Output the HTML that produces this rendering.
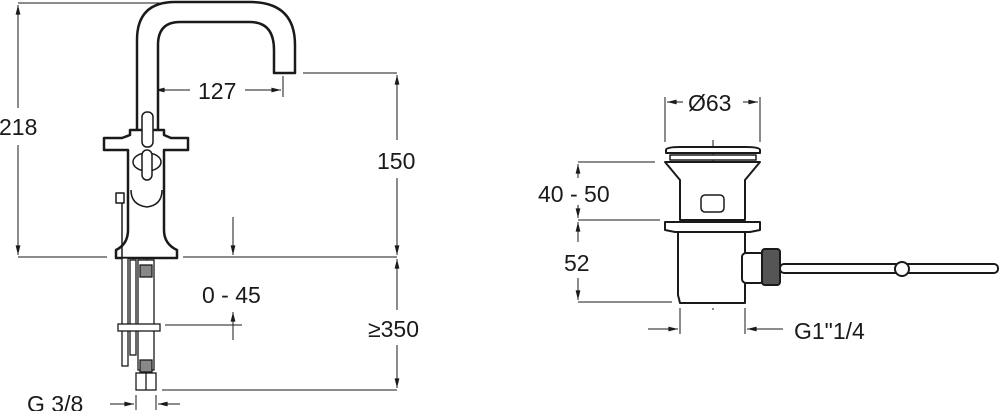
<!DOCTYPE html>
<html><head><meta charset="utf-8"><style>
html,body{margin:0;padding:0;background:#fff}
svg{display:block}
text{font-family:"Liberation Sans",sans-serif;font-size:23px;fill:#1a1a1a}
</style></head><body>
<svg width="1000" height="411" viewBox="0 0 1000 411" xmlns="http://www.w3.org/2000/svg">
<defs>
<marker id="a" viewBox="0 0 12 10" refX="12" refY="5" markerWidth="12" markerHeight="8" orient="auto-start-reverse" markerUnits="userSpaceOnUse"><path d="M0,2 L12,5 L0,8 z" fill="#1a1a1a"/></marker>
</defs>
<g stroke="#1a1a1a" fill="none" stroke-width="1">
<line x1="18" y1="3" x2="165" y2="3"/>
<line x1="18" y1="257" x2="107" y2="257"/>
<line x1="18" y1="5" x2="18" y2="108" marker-start="url(#a)"/>
<line x1="18" y1="145" x2="18" y2="255" marker-end="url(#a)"/>
<line x1="183" y1="257" x2="397" y2="257"/>
<line x1="303" y1="73" x2="397" y2="73"/>
<line x1="397" y1="75" x2="397" y2="140" marker-start="url(#a)"/>
<line x1="397" y1="178" x2="397" y2="255" marker-end="url(#a)"/>
<line x1="397" y1="259" x2="397" y2="310" marker-start="url(#a)"/>
<line x1="397" y1="345" x2="397" y2="388" marker-end="url(#a)"/>
<line x1="162" y1="390" x2="397" y2="390"/>
<line x1="155" y1="90" x2="190" y2="90" marker-start="url(#a)"/>
<line x1="245" y1="90" x2="281" y2="90" marker-end="url(#a)"/>
<line x1="283" y1="76" x2="283" y2="97"/>
<line x1="233" y1="217" x2="233" y2="255" marker-end="url(#a)"/>
<line x1="233" y1="312" x2="233" y2="340" marker-start="url(#a)"/>
<line x1="165" y1="325" x2="242" y2="325"/>
<line x1="110" y1="404" x2="134" y2="404" marker-end="url(#a)"/>
<line x1="180" y1="404" x2="158" y2="404" marker-end="url(#a)"/>
<line x1="136" y1="395" x2="136" y2="410"/>
<line x1="156" y1="395" x2="156" y2="410"/>
<line x1="147" y1="85" x2="147" y2="370" stroke-dasharray="10,4"/>
</g>
<g stroke="#1a1a1a" fill="#fff" stroke-width="2.5" stroke-linejoin="round">
<path d="M137,130 L137,40 Q137,2 175,2 L250,2 Q295,2 295,45 L295,73 L274,73 L274,50 Q274,22 250,22 L180,22 Q158,22 158,45 L158,130"/>
<path d="M130,130 L164,130 L164,135 L171,138 L188,138 L188,150 L164,150 L164,230 Q164,244 177,250 L177,258 L116,258 L116,250 Q128,244 128,230 L128,150 L104,150 L104,138 L122,138 L130,135 Z"/>
<rect x="142" y="112" width="11" height="35" rx="5" stroke-width="1.5"/>
<ellipse cx="147" cy="162" rx="14" ry="9" stroke-width="1.5"/>
<rect x="142" y="150" width="10" height="30" rx="5" stroke-width="1.5"/>
<path d="M131,190 Q131,205 147,207 Q162,205 162,190" fill="none" stroke-width="1.5"/>
<rect x="116" y="193" width="8" height="10" stroke-width="1.5"/>
<line x1="122" y1="203" x2="122" y2="258" stroke-width="1.5"/>
</g>
<g stroke="#1a1a1a" fill="#fff" stroke-width="1.3">
<rect x="122" y="258" width="6" height="108"/>
<rect x="130" y="260" width="6" height="95"/>
<rect x="138" y="260" width="16" height="110"/>
<rect x="140" y="265" width="12" height="12" fill="#888"/>
<rect x="140" y="360" width="12" height="12" fill="#888"/>
<rect x="118" y="324" width="42" height="7"/>
<rect x="136" y="373" width="20" height="17"/>
<line x1="146" y1="373" x2="146" y2="390"/>
</g>
<text x="-1" y="135">218</text>
<text x="198" y="99">127</text>
<text x="377" y="169">150</text>
<text x="202" y="303">0 - 45</text>
<text x="368" y="337">≥350</text>
<text x="27" y="412">G 3/8</text>

<g stroke="#1a1a1a" fill="none" stroke-width="1">
<line x1="665" y1="97" x2="665" y2="142"/>
<line x1="760" y1="97" x2="760" y2="142"/>
<line x1="667" y1="102" x2="683" y2="102" marker-start="url(#a)"/>
<line x1="743" y1="102" x2="758" y2="102" marker-end="url(#a)"/>
<line x1="578" y1="162" x2="655" y2="162"/>
<line x1="578" y1="220" x2="660" y2="220"/>
<line x1="578" y1="302" x2="672" y2="302"/>
<line x1="578" y1="164" x2="578" y2="178" marker-start="url(#a)"/>
<line x1="578" y1="205" x2="578" y2="218" marker-end="url(#a)"/>
<line x1="578" y1="222" x2="578" y2="242" marker-start="url(#a)"/>
<line x1="578" y1="278" x2="578" y2="300" marker-end="url(#a)"/>
<line x1="680" y1="308" x2="680" y2="334"/>
<line x1="745" y1="308" x2="745" y2="334"/>
<line x1="648" y1="329" x2="678" y2="329" marker-end="url(#a)"/>
<line x1="783" y1="329" x2="747" y2="329" marker-end="url(#a)"/>
<line x1="713" y1="140" x2="713" y2="310" stroke-dasharray="10,4"/>
</g>
<g stroke="#1a1a1a" fill="#fff" stroke-width="2" stroke-linejoin="round">
<path d="M666,150 Q666,147 680,147 L746,147 Q760,147 760,150 L760,153 L666,153 Z"/>
<path d="M670,155 L756,155 L756,160 L670,160 Z" stroke-width="1.5"/>
<path d="M665,162 L760,162 L745,180 L745,220 L680,220 L680,180 Z"/>
<rect x="701" y="195" width="23" height="17" rx="4" stroke-width="1.5"/>
<path d="M665,222 L760,222 L760,230 L750,232 L675,232 L665,230 Z"/>
<path d="M678,232 L745,232 L745,303 L680,303 L678,295 Z"/>
<rect x="742" y="253" width="22" height="30" rx="4"/>
<rect x="762" y="249" width="18" height="36" rx="3" fill="#555"/>
<rect x="780" y="264" width="218" height="9" rx="4"/>
<circle cx="902" cy="269" r="7"/>
</g>
<text x="688" y="111">Ø63</text>
<text x="538" y="202">40 - 50</text>
<text x="564" y="271">52</text>
<text x="794" y="339">G1"1/4</text>
</svg>
</body></html>
